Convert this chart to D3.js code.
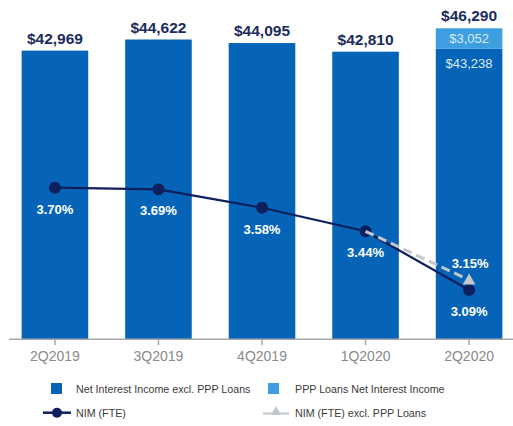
<!DOCTYPE html>
<html>
<head>
<meta charset="utf-8">
<script src="https://cdn.jsdelivr.net/npm/d3@7"></script>
<style>
  body { margin: 0; background: #fff; }
  text { font-family: "Liberation Sans", Arial, sans-serif; }
</style>
</head>
<body>
<svg id="chart" width="513" height="426"></svg>
<script>
// Net interest income ($000) and NIM by quarter
const quarters = ["2Q2019", "3Q2019", "4Q2019", "1Q2020", "2Q2020"];
const niiExPPP = [42969, 44622, 44095, 42810, 43238];
const pppNII = [0, 0, 0, 0, 3052];
const nim = [3.70, 3.69, 3.58, 3.44, 3.09];
// NIM excl. PPP only shown for the last two quarters
const nimExPPP = [null, null, null, 3.44, 3.15];

const svg = d3.select("#chart");

const DARK_BLUE = "#0564B8";
const LIGHT_BLUE = "#3E9FE0";
const NAVY = "#0E1F5E";
const LABEL_NAVY = "#1A2B5E";
const GREY_LINE = "#C3C7CE";

const x = d3.scaleBand()
    .domain(quarters)
    .range([3, 521])
    .paddingInner(0.357)
    .paddingOuter(0.18);

const yBar = d3.scaleLinear()
    .domain([0, 46290])
    .range([339.3, 28.3]);

const yNim = d3.scaleLinear()
    .domain([2.796, 4.65])
    .range([339.3, 28.3]);

const totals = niiExPPP.map((v, i) => v + pppNII[i]);

/* ------------------------------------------------------------------
   Bars
------------------------------------------------------------------ */

const bars = svg.append("g");

bars.selectAll("rect.base")
    .data(quarters)
    .join("rect")
    .attr("class", "base")
    .attr("x", d => x(d))
    .attr("width", x.bandwidth())
    .attr("y", (d, i) => yBar(niiExPPP[i]))
    .attr("height", (d, i) => yBar(0) - yBar(niiExPPP[i]))
    .attr("fill", DARK_BLUE);

bars.selectAll("rect.ppp")
    .data(quarters.filter((d, i) => pppNII[i] > 0))
    .join("rect")
    .attr("class", "ppp")
    .attr("x", d => x(d))
    .attr("width", x.bandwidth())
    .attr("y", d => yBar(totals[quarters.indexOf(d)]))
    .attr("height", d => {
        const i = quarters.indexOf(d);
        return yBar(niiExPPP[i]) - yBar(totals[i]);
    })
    .attr("fill", LIGHT_BLUE);

// totals above bars
svg.append("g").selectAll("text")
    .data(quarters)
    .join("text")
    .attr("x", d => x(d) + x.bandwidth() / 2)
    .attr("y", (d, i) => yBar(totals[i]) - 7)
    .attr("text-anchor", "middle")
    .attr("font-size", "15.5px")
    .attr("font-weight", "bold")
    .attr("fill", LABEL_NAVY)
    .text((d, i) => "$" + d3.format(",")(totals[i]));

// split labels inside stacked bar
quarters.forEach((q, i) => {
    if (pppNII[i] <= 0) return;
    const cx = x(q) + x.bandwidth() / 2;
    svg.append("text")
        .attr("x", cx)
        .attr("y", (yBar(totals[i]) + yBar(niiExPPP[i])) / 2 + 4.5)
        .attr("text-anchor", "middle")
        .attr("font-size", "13px")
        .attr("fill", "#DCEBFA")
        .text("$" + d3.format(",")(pppNII[i]));
    svg.append("text")
        .attr("x", cx)
        .attr("y", yBar(niiExPPP[i]) + 19)
        .attr("text-anchor", "middle")
        .attr("font-size", "13px")
        .attr("fill", "#DCEBFA")
        .text("$" + d3.format(",")(niiExPPP[i]));
});

/* ------------------------------------------------------------------
   Axis
------------------------------------------------------------------ */

const axis = svg.append("g")
    .attr("transform", `translate(0,${yBar(0)})`)
    .call(d3.axisBottom(x).tickSize(6).tickPadding(6));

axis.select(".domain")
    .attr("d", "M9,0H513")
    .attr("stroke", "#A8A8A8")
    .attr("stroke-width", 1.5);
axis.selectAll(".tick line").attr("stroke", "#A8A8A8").attr("stroke-width", 1.5);
axis.selectAll(".tick text")
    .attr("font-size", "14px")
    .attr("font-family", "'Liberation Sans', Arial, sans-serif")
    .attr("fill", "#8A8A8A");

/* ------------------------------------------------------------------
   NIM lines
------------------------------------------------------------------ */

const cxOf = i => x(quarters[i]) + x.bandwidth() / 2;

const line = d3.line()
    .defined(d => d.v != null)
    .x(d => cxOf(d.i))
    .y(d => yNim(d.v));

svg.append("path")
    .datum(nim.map((v, i) => ({ v, i })))
    .attr("d", line)
    .attr("fill", "none")
    .attr("stroke", NAVY)
    .attr("stroke-width", 2.2);

svg.append("g").selectAll("circle")
    .data(nim)
    .join("circle")
    .attr("cx", (d, i) => cxOf(i))
    .attr("cy", d => yNim(d))
    .attr("r", 6)
    .attr("fill", NAVY);

const exPts = nimExPPP.map((v, i) => ({ v, i })).filter(d => d.v != null);

svg.append("path")
    .datum(exPts)
    .attr("d", line)
    .attr("fill", "none")
    .attr("stroke", GREY_LINE)
    .attr("stroke-width", 3)
    .attr("stroke-dasharray", "9,5");

const tri = d3.symbol().type(d3.symbolTriangle).size(70);
svg.append("path")
    .attr("d", tri())
    .attr("transform", () => {
        const last = exPts[exPts.length - 1];
        return `translate(${cxOf(last.i)},${yNim(last.v) + 1})`;
    })
    .attr("fill", GREY_LINE);

// NIM labels
const pct = d => d.toFixed(2) + "%";
svg.append("g").selectAll("text")
    .data(nim)
    .join("text")
    .attr("x", (d, i) => cxOf(i))
    .attr("y", d => yNim(d) + 26)
    .attr("text-anchor", "middle")
    .attr("font-size", "13px")
    .attr("font-weight", "bold")
    .attr("fill", "#fff")
    .text(pct);

svg.append("text")
    .attr("x", cxOf(4) + 1)
    .attr("y", yNim(3.15) - 12)
    .attr("text-anchor", "middle")
    .attr("font-size", "13px")
    .attr("font-weight", "bold")
    .attr("fill", "#fff")
    .text(pct(3.15));

/* ------------------------------------------------------------------
   Legend
------------------------------------------------------------------ */

const legend = svg.append("g")
    .attr("font-size", "10.7px")
    .attr("fill", "#3A3A3A");

legend.append("rect").attr("x", 51).attr("y", 383).attr("width", 11).attr("height", 11).attr("fill", DARK_BLUE);
legend.append("text").attr("x", 76).attr("y", 392.5).text("Net Interest Income excl. PPP Loans");

legend.append("rect").attr("x", 268).attr("y", 383).attr("width", 11).attr("height", 11).attr("fill", LIGHT_BLUE);
legend.append("text").attr("x", 295).attr("y", 392.5).text("PPP Loans Net Interest Income");

legend.append("line").attr("x1", 43).attr("x2", 71).attr("y1", 412.7).attr("y2", 412.7)
    .attr("stroke", NAVY).attr("stroke-width", 2.5);
legend.append("circle").attr("cx", 57).attr("cy", 412.7).attr("r", 5).attr("fill", NAVY);
legend.append("text").attr("x", 76).attr("y", 416.5).text("NIM (FTE)");

legend.append("line").attr("x1", 263).attr("x2", 289).attr("y1", 413.5).attr("y2", 413.5)
    .attr("stroke", GREY_LINE).attr("stroke-width", 2);
legend.append("path").attr("d", d3.symbol().type(d3.symbolTriangle).size(45)())
    .attr("transform", "translate(276,412)").attr("fill", GREY_LINE);
legend.append("text").attr("x", 295).attr("y", 416.5).text("NIM (FTE) excl. PPP Loans");
</script>
</body>
</html>
